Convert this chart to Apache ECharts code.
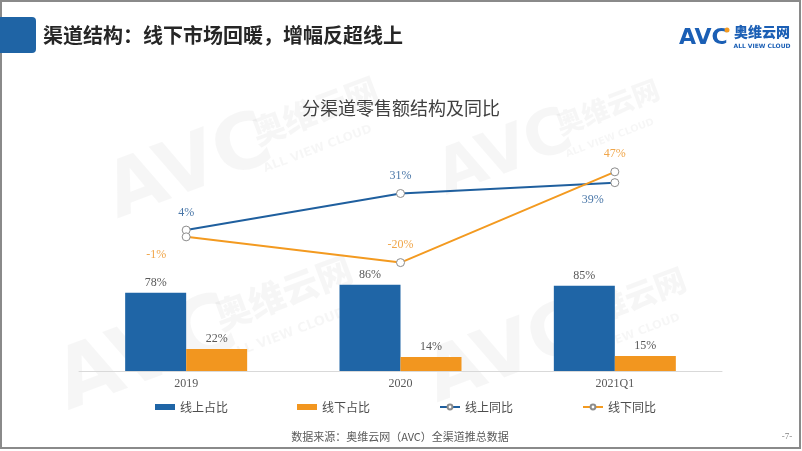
<!DOCTYPE html>
<html><head><meta charset="utf-8">
<script src="https://cdn.jsdelivr.net/npm/echarts@6/dist/echarts.min.js"></script>
<style>html,body{margin:0;padding:0;background:#fff}#c{width:802px;height:451px}</style>
</head><body><div id="c"></div>
<script>
const categories = ['2019', '2020', '2021Q1'];
const onlineShare = [78, 86, 85];
const offlineShare = [22, 14, 15];
const onlineYoY = [4, 31, 39];
const offlineYoY = [-1, -20, 47];
const seriesNames = ['线上占比', '线下占比', '线上同比', '线下同比'];

const BLUE = '#1f65a6', ORANGE = '#f2961f', LBLUE = '#1f5f9e', LORANGE = '#f39a20';
const serif = '"Liberation Serif","Times New Roman",serif';
const cjk = '"Noto Sans CJK SC",sans-serif';

// label placement per point (style only)
const onlineLabelPos = [{position:'top',offset:[0,0]},{position:'top',offset:[0,0]},{position:'bottom',offset:[-22,0]}];
const offlineLabelPos = [{position:'bottom',offset:[-30,0]},{position:'top',offset:[0,0]},{position:'top',offset:[0,0]}];

function pct(p){ return p.value + '%'; }

const WM = 'rgba(0,0,0,0.035)';
function wm(x, y, s){
  return [
    {type:'text', x:x, y:y, rotation:0.36, silent:true, z:0,
     style:{text:'AVC', font:'900 '+(70*s)+'px "DejaVu Sans",sans-serif', fill:WM, textVerticalAlign:'middle'}},
    {type:'text', x:x+130*s, y:y-60*s, rotation:0.36, silent:true, z:0,
     style:{text:'奥维云网', font:'900 '+(30*s)+'px '+cjk, fill:WM, textVerticalAlign:'middle'}},
    {type:'text', x:x+140*s, y:y-28*s, rotation:0.36, silent:true, z:0,
     style:{text:'ALL VIEW CLOUD', font:'bold '+(11*s)+'px "DejaVu Sans",sans-serif', fill:WM, textVerticalAlign:'middle'}}
  ];
}

const chart = echarts.init(document.getElementById('c'), null, {renderer:'canvas'});
chart.setOption({
  animation:false,
  backgroundColor:'#fff',
  grid:{left:79, right:80, top:100, bottom:80, containLabel:false},
  legend:{
    data:[{name:seriesNames[0], icon:'rect'},{name:seriesNames[1], icon:'rect'},seriesNames[2],seriesNames[3]],
    left:150, top:396, itemWidth:20, itemHeight:6, itemGap:69,
    textStyle:{color:'#4d4d4d', fontSize:12, fontFamily:cjk}
  },
  xAxis:{type:'category', data:categories,
    axisLine:{lineStyle:{color:'#d9d9d9'}}, axisTick:{show:false},
    axisLabel:{color:'#595959', fontSize:12, fontFamily:serif, margin:7}},
  yAxis:[
    {type:'value', min:0, max:270, show:false, splitLine:{show:false}},
    {type:'value', min:-100, max:100, show:false, splitLine:{show:false}}
  ],
  series:[
    {name:seriesNames[0], type:'bar', data:onlineShare, barWidth:61, barGap:'0%', itemStyle:{color:BLUE},
     label:{show:true, position:'top', distance:4, formatter:pct, color:'#595959', fontSize:12, fontFamily:serif}},
    {name:seriesNames[1], type:'bar', data:offlineShare, barWidth:61, itemStyle:{color:ORANGE},
     label:{show:true, position:'top', distance:4, formatter:pct, color:'#595959', fontSize:12, fontFamily:serif}},
    {name:seriesNames[2], type:'line', yAxisIndex:1, data:onlineYoY.map((v,i)=>({value:v, label:onlineLabelPos[i]})),
     symbol:'circle', symbolSize:8, lineStyle:{color:LBLUE, width:2},
     itemStyle:{color:'#ffffff', borderColor:'#8c8c8c', borderWidth:1},
     label:{show:true, distance:7, formatter:pct, color:'#4a77a8', fontSize:12, fontFamily:serif}, z:5},
    {name:seriesNames[3], type:'line', yAxisIndex:1, data:offlineYoY.map((v,i)=>({value:v, label:offlineLabelPos[i]})),
     symbol:'circle', symbolSize:8, lineStyle:{color:LORANGE, width:2},
     itemStyle:{color:'#ffffff', borderColor:'#8c8c8c', borderWidth:1},
     label:{show:true, distance:7, formatter:pct, color:'#f0a64a', fontSize:12, fontFamily:serif}, z:5}
  ],
  graphic:[].concat(
    wm(110, 200, 1.1), wm(440, 180, 0.9), wm(60, 390, 1.2), wm(430, 385, 1.05),
    [
    {type:'rect', shape:{x:1, y:1, width:799, height:447}, style:{fill:'none', stroke:'#8a8a8a', lineWidth:2}, silent:true, z:10},
    {type:'rect', shape:{x:0, y:17, width:36, height:36, r:[0,4,4,0]}, style:{fill:'#1f64a5'}, z:10},
    {type:'text', x:43, y:35, style:{text:'渠道结构：线下市场回暖，增幅反超线上', font:'bold 20px '+cjk, fill:'#262626', textVerticalAlign:'middle'}, z:10},
    {type:'text', x:679, y:38, style:{text:'AVC', font:'900 22px "DejaVu Sans",sans-serif', fill:'#1b5fb5', textVerticalAlign:'middle'}, z:10},
    {type:'circle', shape:{cx:727, cy:30, r:2.5}, style:{fill:'#f39a20'}, z:11},
    {type:'text', x:734, y:32, style:{text:'奥维云网', font:'900 14px '+cjk, fill:'#1b5fb5', textVerticalAlign:'middle'}, z:10},
    {type:'text', x:762, y:46, style:{text:'ALL VIEW CLOUD', font:'bold 6px "DejaVu Sans",sans-serif', fill:'#1b5fb5', textAlign:'center', textVerticalAlign:'middle'}, z:10},
    {type:'text', x:401, y:108, style:{text:'分渠道零售额结构及同比', font:'18px '+cjk, fill:'#404040', textAlign:'center', textVerticalAlign:'middle'}, z:10},
    {type:'text', x:400, y:437, style:{text:'数据来源：奥维云网（AVC）全渠道推总数据', font:'11px '+cjk, fill:'#595959', textAlign:'center', textVerticalAlign:'middle'}, z:10},
    {type:'text', x:787, y:437, style:{text:'-7-', font:'9px '+serif, fill:'#7f7f7f', textAlign:'center', textVerticalAlign:'middle'}, z:10}
    ])
});
</script></body></html>
